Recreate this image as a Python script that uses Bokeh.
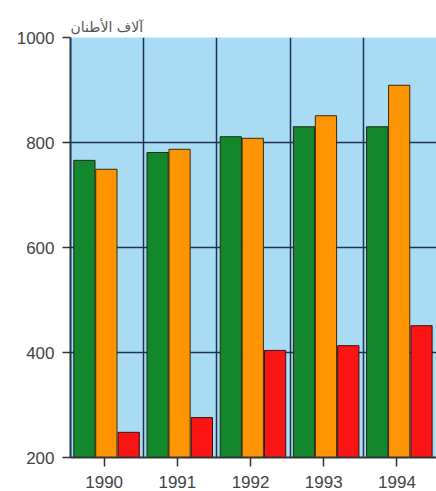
import numpy as np
from bokeh.plotting import figure
from bokeh.models import Range1d, FixedTicker, Grid, ColumnDataSource
from bokeh.embed import file_html
from bokeh.resources import INLINE

years = ["1990", "1991", "1992", "1993", "1994"]
green_vals = [766, 781, 811, 830, 830]
orange_vals = [749, 787, 808, 851, 909]
red_vals = [248, 276, 404, 413, 451]
y_ticks = [200, 400, 600, 800, 1000]
unit_label = "آلاف الأطنان"

idx = np.arange(len(years))
src = ColumnDataSource(dict(
    xg=idx + 0.19, xo=idx + 0.49, xr=idx + 0.795,
    g=green_vals, o=orange_vals, r=red_vals,
))

p = figure(width=436, height=491, output_backend="svg", toolbar_location=None,
           x_range=Range1d(0, len(years)), y_range=Range1d(200, 1000),
           min_border_left=70, min_border_right=0, min_border_top=37,
           min_border_bottom=34)

p.background_fill_color = "#a9dcf3"
p.border_fill_color = "white"
p.outline_line_color = None

p.title.text = unit_label
p.title.text_font = "DejaVu Sans"
p.title.text_font_size = "14px"
p.title.text_font_style = "normal"
p.title.text_color = "#555555"
p.title.align = "left"
p.title.standoff = 6

# grid
p.xgrid.visible = False
p.ygrid.ticker = FixedTicker(ticks=y_ticks)
p.ygrid.grid_line_color = "#1d3350"
p.ygrid.grid_line_width = 1.5
vgrid = Grid(dimension=0, ticker=FixedTicker(ticks=list(range(1, len(years)))),
             grid_line_color="#1d3350", grid_line_width=1.5)
p.add_layout(vgrid)

bw = 0.29
p.vbar(x="xg", top="g", bottom=200, width=bw, source=src,
       fill_color="#14862c", line_color="#1a2a1a", line_width=1)
p.vbar(x="xo", top="o", bottom=200, width=bw, source=src,
       fill_color="#ff9402", line_color="#3a2a10", line_width=1)
p.vbar(x="xr", top="r", bottom=200, width=bw, source=src,
       fill_color="#fb1414", line_color="#3a1010", line_width=1)

# axes
p.yaxis.ticker = FixedTicker(ticks=y_ticks)
p.yaxis.minor_tick_line_color = None
p.yaxis.major_tick_out = 8
p.yaxis.major_tick_in = 0
p.yaxis.major_label_standoff = 8
p.yaxis.axis_line_color = "#1d3350"
p.yaxis.axis_line_width = 2
p.yaxis.major_tick_line_color = "#333333"
p.yaxis.major_tick_line_width = 1.5

p.xaxis.ticker = FixedTicker(ticks=list(idx + 0.46))
p.xaxis.major_label_overrides = {float(i + 0.46): y for i, y in zip(idx, years)}
p.xaxis.minor_tick_line_color = None
p.xaxis.major_tick_out = 9
p.xaxis.major_tick_in = 0
p.xaxis.major_label_standoff = 9
p.xaxis.axis_line_color = "#333333"
p.xaxis.axis_line_width = 2
p.xaxis.major_tick_line_color = "#333333"
p.xaxis.major_tick_line_width = 1.5

for ax in (p.xaxis, p.yaxis):
    ax.major_label_text_font = "Liberation Sans"
    ax.major_label_text_font_size = "17px"
    ax.major_label_text_color = "#444444"

open("out.html", "w").write(file_html(p, INLINE))
